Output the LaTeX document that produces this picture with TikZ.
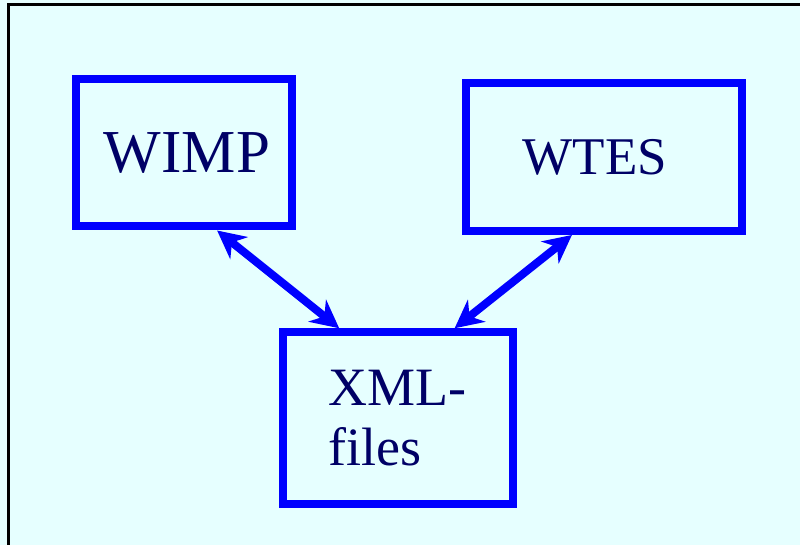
\documentclass[tikz,border=0pt]{standalone}
\usepackage{fontspec}
\setmainfont{Liberation Serif}
\usetikzlibrary{arrows.meta,calc}
\definecolor{bgcyan}{RGB}{230,255,255}
\definecolor{boxblue}{RGB}{0,0,255}
\definecolor{navy}{RGB}{0,0,102}
\tikzset{
  box/.style={draw=boxblue, line width=8pt, rectangle, inner sep=0pt, text=navy, align=left},
  tip/.tip={Stealth[length=28pt 0 0,width=28pt 0 0,inset=9pt 0 0]},
  link/.style={draw=boxblue, line width=8pt, tip-tip},
  frame/.style={draw=black, line width=3pt}
}
\begin{document}
\begin{tikzpicture}[x=1pt,y=-1pt]
\fill[bgcyan] (0,0) rectangle (800,545);
\useasboundingbox (0,0) rectangle (800,545);
\draw[frame] (8,545) -- (8,5) -- (800,5);
\node[box, minimum width=216pt, minimum height=147pt, font=\fontsize{61}{66}\selectfont] (wimp) at (183.5,153) {\hspace*{7pt}WIMP};
\node[box, minimum width=276pt, minimum height=148pt, font=\fontsize{53}{60}\selectfont] (wtes) at (604,157) {\hspace*{-18pt}WTES};
\node[box, minimum width=230pt, minimum height=171.5pt, font=\fontsize{54}{60}\selectfont] (xml) at (397.5,418) {XML-\\files};
\draw[link] ($(wimp.south west)!0.65!(wimp.south east)$) -- ($(xml.north west)!0.255!(xml.north east)$);
\draw[link] ($(wtes.south west)!0.387!(wtes.south east)$) -- ($(xml.north west)!0.74!(xml.north east)$);
\end{tikzpicture}
\end{document}
